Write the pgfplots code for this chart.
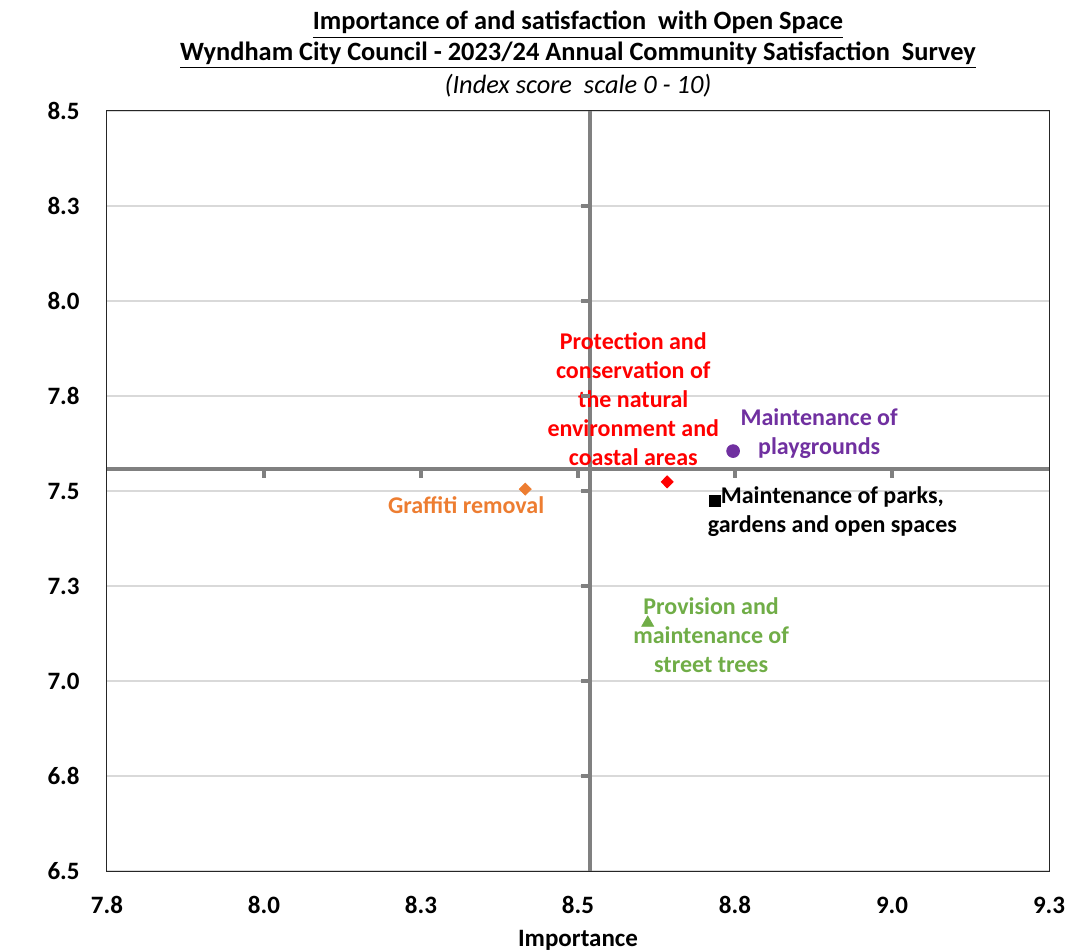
\documentclass[border=0pt]{standalone}
\usepackage{fontspec}
\setmainfont{Carlito}
\usepackage{pgfplots}
\pgfplotsset{compat=1.18}
\definecolor{refgray}{HTML}{808080}
\definecolor{gridgray}{HTML}{D9D9D9}
\definecolor{cOrange}{HTML}{ED7D31}
\definecolor{cRed}{HTML}{FF0000}
\definecolor{cPurple}{HTML}{7030A0}
\definecolor{cGreen}{HTML}{70AD47}
\begin{document}
\begin{tikzpicture}
\useasboundingbox (-53.5pt,-40pt) rectangle (480.5pt,435.5pt);
\begin{axis}[
  at={(0,0)}, anchor=south west,
  scale only axis, width=471pt, height=380pt,
  xmin=7.75, xmax=9.25, ymin=6.5, ymax=8.5,
  xtick={7.75,8,8.25,8.5,8.75,9,9.25},
  xticklabels={7.8,8.0,8.3,8.5,8.8,9.0,9.3},
  ytick={6.5,6.75,7,7.25,7.5,7.75,8,8.25,8.5},
  yticklabels={6.5,6.8,7.0,7.3,7.5,7.8,8.0,8.3,8.5},
  ymajorgrids, major grid style={color=gridgray, line width=0.6pt},
  major tick length=0pt,
  tick label style={font=\fontsize{12.5}{14}\selectfont\bfseries},
  xticklabel style={anchor=base, inner sep=0pt, yshift=-21pt},
  yticklabel style={anchor=east, inner sep=0pt, xshift=-13.5pt},
  axis line style={black!85, line width=0.5pt},
  clip=false,
]
% reference (mean) lines
\addplot[refgray, line width=2pt] coordinates {(7.75,7.558) (9.25,7.558)};
\addplot[refgray, line width=2pt] coordinates {(8.519,6.5) (8.519,8.5)};
% tick marks on reference lines
\addplot[only marks, refgray, mark=|, mark size=2.25pt, mark options={yshift=-2.25pt, line width=2pt}]
  coordinates {(8,7.558) (8.25,7.558) (8.5,7.558) (8.75,7.558) (9,7.558)};
\addplot[only marks, refgray, mark=-, mark size=2.25pt, mark options={xshift=-2.25pt, line width=2pt}]
  coordinates {(8.519,6.75) (8.519,7) (8.519,7.25) (8.519,7.5) (8.519,7.75) (8.519,8) (8.519,8.25)};
% data points
\addplot[only marks, cOrange, mark=diamond*, mark size=3pt, mark options={xscale=1.33}] coordinates {(8.416,7.505)};
\addplot[only marks, cRed, mark=diamond*, mark size=3pt, mark options={xscale=1.33}] coordinates {(8.642,7.524)};
\addplot[only marks, cPurple, mark=*, mark size=3.2pt] coordinates {(8.747,7.605)};
\addplot[only marks, black, mark=square*, mark size=2.7pt] coordinates {(8.718,7.474)};
\addplot[only marks, cGreen, mark=triangle*, mark size=3.4pt] coordinates {(8.611,7.153)};
% data labels
\begin{scope}[every node/.style={font=\fontsize{12}{14.5}\selectfont\bfseries, align=center, inner sep=0pt}]
\node[text=cRed] at (axis cs:8.588,7.743) {Protection and\\conservation of\\the natural\\environment and\\coastal areas};
\node[text=cPurple] at (axis cs:8.884,7.651) {Maintenance of\\playgrounds};
\node[text=black] at (axis cs:8.905,7.446) {Maintenance of parks,\\gardens and open spaces};
\node[text=cOrange] at (axis cs:8.322,7.463) {Graffiti removal};
\node[text=cGreen] at (axis cs:8.712,7.120) {Provision and\\maintenance of\\street trees};
\end{scope}
% titles and axis labels
\node[anchor=base, font=\fontsize{13.2}{15}\selectfont\bfseries] at (rel axis cs:0.5,1) [yshift=40.5pt] {\underline{Importance of and satisfaction\ \ with Open Space}};
\node[anchor=base, font=\fontsize{13.2}{15}\selectfont\bfseries] at (rel axis cs:0.5,1) [yshift=25.25pt] {\underline{Wyndham City Council - 2023/24 Annual Community Satisfaction\ \ Survey}};
\node[anchor=base, font=\fontsize{13.2}{15}\selectfont\itshape] at (rel axis cs:0.5,1) [yshift=8.5pt] {(Index score\ \ scale 0 - 10)};
\node[font=\fontsize{12.5}{14}\selectfont\bfseries] at (rel axis cs:0.5,0) [yshift=-34.5pt] {Importance};
\node[rotate=90, font=\fontsize{12.5}{14}\selectfont\bfseries] at (rel axis cs:0,0) [xshift=-43.5pt, yshift=178pt] {Satisfaction};
\end{axis}
\end{tikzpicture}
\end{document}
